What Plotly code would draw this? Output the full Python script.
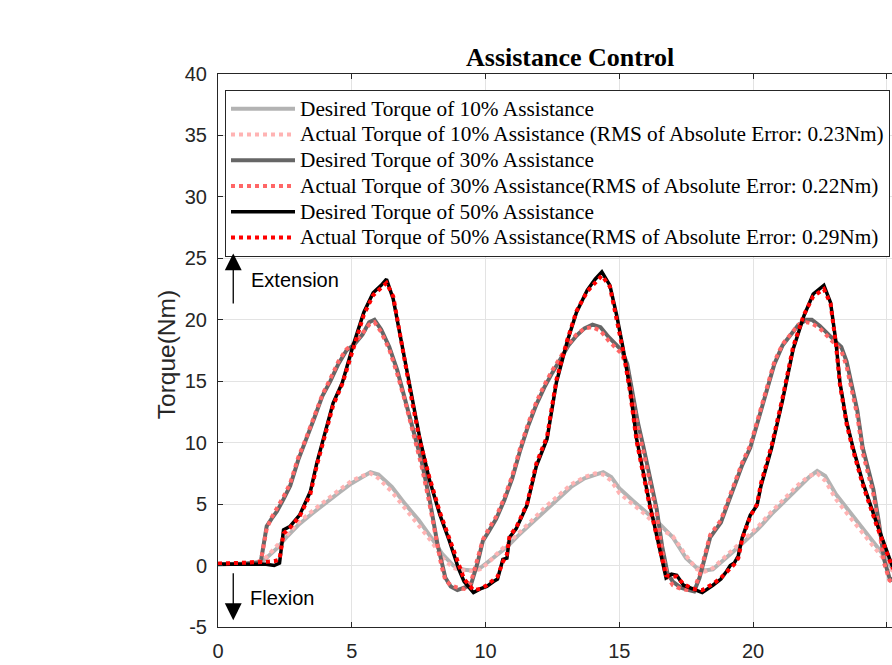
import plotly.graph_objects as go

# ---------------- data ----------------
x10 = [0, 1.0, 1.6, 1.9, 2.2, 2.6, 3.0, 3.5, 4.0, 4.5, 5.0, 5.4, 5.7, 6.0, 6.5,
       7.0, 7.5, 8.0, 8.4, 8.8, 9.2, 9.5, 9.8, 10.1, 10.4, 10.8, 11.2, 11.7, 12.2, 12.7,
       13.2, 13.7, 14.1, 14.4, 14.7, 15.0, 15.5, 16.0, 16.5, 17.0, 17.5, 17.9, 18.2, 18.5,
       18.9, 19.3, 19.7, 20.2, 20.7, 21.2, 21.7, 22.1, 22.4, 22.7, 23.1, 23.6, 24.1, 24.6,
       24.9, 25.2, 25.5, 25.8]
desired10 = [0.1, 0.15, 0.2, 0.8, 1.4, 2.4, 3.3, 4.2, 5.1, 5.9, 6.7, 7.2, 7.6, 7.4, 6.4,
             5.0, 3.7, 2.2, 0.9, 0.0, -0.35, -0.4, -0.2, 0.3, 0.8, 1.5, 2.4, 3.4, 4.5, 5.5,
             6.4, 7.1, 7.4, 7.6, 7.2, 6.3, 5.3, 4.4, 3.4, 2.3, 0.6, -0.2, -0.4, -0.3,
             0.4, 1.2, 2.0, 3.0, 4.2, 5.3, 6.4, 7.2, 7.7, 7.3, 5.8, 4.4, 3.0, 1.6,
             0.8, -0.2, -0.9, -1.2]
actual10 = [0.12, 0.2, 0.3, 0.9, 1.6, 2.6, 3.5, 4.4, 5.3, 6.1, 6.9, 7.3, 7.5, 7.1, 6.0,
            4.6, 3.3, 1.9, 0.6, -0.2, -0.4, -0.45, -0.3, 0.2, 0.9, 1.7, 2.6, 3.6, 4.7, 5.7,
            6.6, 7.2, 7.5, 7.4, 6.9, 5.9, 5.0, 4.1, 3.0, 2.4, 0.8, -0.3, -0.5, -0.2,
            0.6, 1.4, 2.2, 3.2, 4.4, 5.5, 6.6, 7.3, 7.5, 6.9, 5.4, 4.0, 2.6, 1.3,
            0.5, -0.4, -1.0, -1.3]

x30 = [0, 1.0, 1.6, 1.7, 1.82, 2.0, 2.2, 2.45, 2.7, 3.0,
       3.3, 3.6, 3.9, 4.2, 4.5, 4.8, 5.1, 5.4, 5.65, 5.85,
       6.1, 6.4, 6.7, 7.0, 7.3, 7.6, 7.9, 8.2, 8.35, 8.5,
       8.7, 8.95, 9.2, 9.45, 9.7, 9.9, 10.1, 10.4, 10.7, 11.0,
       11.3, 11.6, 11.9, 12.2, 12.5, 12.8, 13.1, 13.4, 13.7, 14.0,
       14.3, 14.6, 14.9, 15.1, 15.3, 15.5, 15.7, 15.9, 16.1, 16.4,
       16.6, 16.8, 17.0, 17.3, 17.6, 17.8, 18.0, 18.2, 18.4, 18.6,
       18.8, 19.0, 19.3, 19.6, 19.9, 20.2, 20.5, 20.8, 21.1, 21.4,
       21.7, 22.0, 22.2, 22.5, 22.8, 23.1, 23.3, 23.5, 23.7, 23.9,
       24.1, 24.3, 24.5, 24.7, 24.9, 25.1, 25.4, 25.8]
desired30 = [0.1, 0.15, 0.3, 1.8, 3.2, 3.8, 4.4, 5.4, 6.5, 8.6,
             10.2, 12.0, 13.8, 15.0, 16.4, 17.5, 18.0, 18.8, 19.8, 20.0,
             19.2, 17.8, 15.9, 13.6, 11.0, 8.6, 5.5, 1.8, 0.3, -1.0,
             -1.7, -2.0, -1.8, -1.6, 0.2, 2.0, 2.7, 3.8, 5.3, 7.1,
             9.4, 11.4, 13.1, 14.5, 15.7, 16.8, 17.9, 18.7, 19.3, 19.6,
             19.4, 18.6, 17.9, 17.5, 16.4, 14.0, 11.6, 9.7, 7.6, 4.6,
             1.6, -0.6, -1.3, -1.8, -2.0, -2.1, -1.0, 0.8, 2.3, 2.9,
             3.5, 4.7, 6.5, 8.2, 9.6, 11.8, 14.2, 16.4, 17.9, 18.7,
             19.6, 20.0, 20.0, 19.5, 18.8, 18.2, 17.8, 16.6, 14.6, 12.6,
             9.6, 7.9, 6.2, 3.6, 0.5, -1.0, -1.5, -1.3]
actual30 = [0.15, 0.2, 0.35, 1.5, 3.0, 3.9, 4.6, 5.6, 6.7, 8.8,
            10.4, 12.2, 13.9, 15.2, 16.6, 17.6, 18.1, 18.9, 19.6, 19.8,
            19.0, 17.6, 15.6, 13.3, 10.7, 8.2, 5.1, 1.4, 0.0, -1.2,
            -1.6, -1.8, -1.9, -1.4, 0.4, 2.1, 2.9, 4.0, 5.5, 7.3,
            9.6, 11.6, 13.3, 14.7, 15.9, 17.0, 18.0, 18.8, 19.3, 19.4,
            19.1, 18.3, 17.7, 17.2, 16.0, 13.6, 11.2, 9.3, 7.2, 4.2,
            1.2, -0.9, -1.6, -1.9, -2.0, -1.9, -0.8, 1.0, 2.5, 3.1,
            3.7, 4.9, 6.7, 8.4, 9.8, 12.0, 14.4, 16.6, 18.0, 18.8,
            19.6, 19.8, 19.7, 19.3, 18.6, 18.0, 17.5, 16.2, 14.2, 12.2,
            9.2, 7.5, 5.8, 3.2, 0.2, -1.2, -1.6, -1.4]

x50 = [0, 1.0, 1.8, 2.1, 2.3, 2.45, 2.7, 3.05, 3.45, 3.7,
       3.95, 4.3, 4.65, 5.05, 5.45, 5.8, 6.1, 6.3, 6.55, 6.9,
       7.25, 7.55, 7.9, 8.3, 8.65, 9.0, 9.2, 9.55, 9.8, 10.05,
       10.3, 10.45, 10.65, 10.8, 10.9, 11.15, 11.55, 11.9, 12.3, 12.65,
       13.05, 13.4, 13.8, 14.1, 14.35, 14.65, 14.9, 15.15, 15.4, 15.65,
       16.15, 16.5, 16.75, 16.95, 17.15, 17.4, 17.75, 18.1, 18.5, 18.8,
       19.0, 19.15, 19.3, 19.45, 19.6, 19.9, 20.15, 20.3, 20.7, 21.1,
       21.5, 21.9, 22.25, 22.65, 22.9, 23.1, 23.25, 23.5, 23.75, 24.1,
       24.6, 25.2, 25.5, 25.8]
desired50 = [0.1, 0.1, 0.1, 0.0, 0.2, 2.9, 3.2, 4.1, 6.0, 8.4,
             10.3, 13.2, 14.9, 17.9, 20.6, 22.2, 22.8, 23.3, 21.7, 17.8,
             13.6, 10.3, 7.0, 4.1, 2.0, -0.3, -1.3, -2.2, -1.9, -1.7,
             -1.3, -1.1, 0.5, 0.6, 2.3, 3.0, 4.9, 8.1, 10.3, 14.9,
             18.2, 20.6, 22.4, 23.3, 23.9, 22.8, 20.4, 17.6, 14.4, 10.3,
             4.9, 1.5, -1.0, -0.7, -0.8, -1.6, -1.9, -2.2, -1.6, -1.1,
             -0.5, 0.0, 0.2, 0.8, 2.3, 4.1, 4.9, 6.5, 9.6, 13.4,
             17.6, 20.3, 22.1, 22.8, 21.4, 18.2, 14.9, 11.7, 9.5, 6.8,
             3.6, 0.0, -1.0, -1.2]
actual50 = [0.15, 0.2, 0.3, 0.35, 0.5, 2.6, 3.1, 4.0, 5.8, 8.2,
            10.1, 13.0, 14.8, 17.7, 20.4, 22.0, 22.6, 23.0, 21.9, 17.6,
            13.4, 10.1, 7.2, 4.3, 2.2, 0.0, -1.1, -2.0, -1.9, -1.6,
            -1.2, -0.9, 0.3, 0.9, 2.4, 3.1, 5.0, 8.3, 10.5, 15.1,
            18.3, 20.7, 22.3, 23.0, 23.6, 22.7, 20.2, 17.4, 14.2, 10.1,
            4.7, 1.3, -0.8, -0.9, -0.9, -1.5, -1.9, -2.0, -1.5, -1.0,
            -0.6, -0.2, 0.1, 0.6, 2.2, 4.0, 5.0, 6.7, 9.8, 13.6,
            17.8, 20.4, 21.9, 22.5, 21.3, 18.0, 14.7, 11.5, 9.3, 6.6,
            3.4, -0.1, -1.1, -1.3]

names = [
    "Desired Torque of 10% Assistance",
    "Actual Torque of 10% Assistance (RMS of Absolute Error: 0.23Nm)",
    "Desired Torque of 30% Assistance",
    "Actual Torque of 30% Assistance(RMS of Absolute Error: 0.22Nm)",
    "Desired Torque of 50% Assistance",
    "Actual Torque of 50% Assistance(RMS of Absolute Error: 0.29Nm)",
]
x_ticks = [0, 5, 10, 15, 20, 25]
y_ticks = [-5, 0, 5, 10, 15, 20, 25, 30, 35, 40]

# ---------------- figure ----------------
AX = "#262626"
SERIF = "Times New Roman, Liberation Serif, serif"
SANS = "Arial, Liberation Sans, sans-serif"
fig = go.Figure()
series = [
    (x10, desired10, "#b3b3b3", 4, "solid"),
    (x10, actual10, "#ffb3b3", 4, "dot"),
    (x30, desired30, "#666666", 4, "solid"),
    (x30, actual30, "#ff6666", 4, "dot"),
    (x50, desired50, "#000000", 3.5, "solid"),
    (x50, actual50, "#ff0000", 4, "dot"),
]
for (xs, ys, c, w, d), n in zip(series, names):
    fig.add_trace(go.Scatter(x=xs, y=ys, mode="lines",
                             name='<span style="font-size:21.3px">' + n + "</span>",
                             line=dict(color=c, width=w, dash=d)))

W, H = 892, 665
L, T, B = 218, 73.5, 38
pxu = 26.75
xmax = (W - L) / pxu
ph = H - T - B

fig.update_layout(
    width=W, height=H,
    margin=dict(l=L, r=0, t=T, b=B, pad=0, autoexpand=False),
    plot_bgcolor="white", paper_bgcolor="white",
    showlegend=True,
    legend=dict(x=(225 - L) / (W - L), y=(627 - 89.5) / ph,
                xanchor="left", yanchor="top",
                bgcolor="white", bordercolor=AX, borderwidth=1,
                font=dict(family=SERIF, size=17.5, color="black"),
                itemwidth=64, tracegroupgap=0),
    xaxis=dict(range=[0, xmax], tickvals=x_ticks, ticktext=[str(v) for v in x_ticks],
               ticks="inside", ticklen=5, tickcolor=AX,
               showline=True, linecolor=AX, linewidth=1, mirror="ticks",
               showgrid=True, gridcolor="#e3e3e3", gridwidth=1, zeroline=False,
               tickfont=dict(family=SANS, size=20, color=AX),
               ticklabelstandoff=6, automargin=False),
    yaxis=dict(range=[-5, 40], tickvals=y_ticks, ticktext=[str(v) for v in y_ticks],
               ticks="inside", ticklen=5, tickcolor=AX,
               showline=True, linecolor=AX, linewidth=1, mirror=False,
               showgrid=True, gridcolor="#e3e3e3", gridwidth=1, zeroline=False,
               tickfont=dict(family=SANS, size=20, color=AX),
               ticklabelstandoff=6, automargin=False),
)

annots = [
    dict(text="<b>Assistance Control</b>", xref="paper", yref="paper",
         x=(569.5 - L) / (W - L), y=(627 - 57) / ph, xanchor="center", yanchor="middle",
         showarrow=False, font=dict(family=SERIF, size=26, color="black")),
    dict(text="Torque(Nm)", xref="paper", yref="paper", textangle=-90,
         x=(166 - L) / (W - L), y=(627 - 355) / ph, xanchor="center", yanchor="middle",
         showarrow=False, font=dict(family=SANS, size=24.5, color=AX)),
    dict(text="Extension", xref="x", yref="y", x=1.16, y=23.25, xanchor="left", yanchor="middle",
         showarrow=False, font=dict(family=SANS, size=20, color="black")),
    dict(text="Flexion", xref="x", yref="y", x=1.11, y=-2.68, xanchor="left", yanchor="middle",
         showarrow=False, font=dict(family=SANS, size=20, color="black")),
    dict(text="", xref="x", yref="y", x=0.57, y=25.4, axref="x", ayref="y", ax=0.57, ay=21.2,
         showarrow=True, arrowhead=2, arrowsize=2.6, arrowwidth=1.3, arrowcolor="black", standoff=0),
    dict(text="", xref="x", yref="y", x=0.57, y=-4.45, axref="x", ayref="y", ax=0.57, ay=-0.5,
         showarrow=True, arrowhead=2, arrowsize=2.6, arrowwidth=1.3, arrowcolor="black", standoff=0),
]
fig.update_layout(annotations=annots)

fig.write_html("out.html")
